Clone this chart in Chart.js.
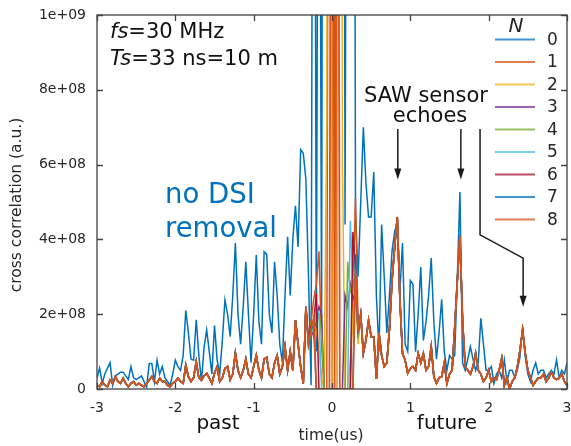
<!DOCTYPE html>
<html>
<head>
<meta charset="utf-8">
<script src="https://cdn.jsdelivr.net/npm/chart.js@4.4.0/dist/chart.umd.min.js"></script>
<style>
  html, body { margin: 0; padding: 0; background: #fff; }
</style>
</head>
<body>
<canvas id="myChart" width="571" height="446"></canvas>
<script>
// values are in units of 1e8 (a.u.), one sample every 1/30 us (fs = 30 MHz)
const seriesN = [0, 1, 2, 3, 4, 5, 6, 7, 8];
const seriesColors = ['#0072BD', '#D95319', '#EDB120', '#7E2F8E', '#77AC30', '#4DBEEE', '#A2142F', '#0072BD', '#D95319'];
const xTickLabels = ['-3', '-2', '-1', '0', '1', '2', '3'];
const yTickLabels = ['0', '2e+08', '4e+08', '6e+08', '8e+08', '1e+09'];

const timeUs = Array.from({ length: 181 }, (_, i) => -3 + i / 30);

// N = 0 : no DSI removal
const noRemoval = [
  0.3, 0.56, 0.15, 0.4, 0.55, 0.7, 0.1, 0.35, 0.4, 0.45,
  0.45, 0.35, 0.25, 0.6, 0.3, 0.25, 0.3, 0.35, 0.2, 0.05,
  0.68, 0.68, 0.2, 0.77, 0.4, 0.6, 0.3, 0.2, 0.1, 0.4,
  0.77, 0.6, 0.5, 0.9, 2.1, 1.5, 0.8, 0.77, 1.85, 0.9,
  0.2, 1.1, 1.58, 1.0, 0.4, 1.7, 0.78, 0.4, 1.3, 2.38,
  2.0, 1.4, 2.5, 3.9, 2.0, 1.2, 2.2, 3.4, 2.0, 0.7,
  2.0, 3.58, 1.8, 1.2, 3.67, 3.6, 2.0, 1.5, 3.4, 2.5,
  1.2, 0.7, 2.5, 4.07, 2.5, 4.0, 4.9, 3.8, 6.4, 6.3,
  5.6, 3.0, 0.1, 30, 1.0, 25, 1.5, 40, 70, 90,
  100, 90, 70, 50, 40, 4.4, 30, 50, 40, 4.7,
  3.0, 5.0, 7.0, 5.5, 4.6, 4.6, 5.8, 2.5, 1.0, 4.4,
  3.0, 1.5, 2.5, 3.7, 4.2, 4.5, 2.6, 3.9, 1.2, 1.0,
  2.9, 2.8, 1.0, 2.0, 3.26, 1.3, 1.8, 2.5, 3.5, 1.8,
  0.8, 1.5, 2.4, 1.0, 0.5, 0.9, 0.8, 0.9, 3.0, 5.27,
  0.7, 0.5, 0.8, 1.13, 0.8, 0.5, 0.7, 1.89, 1.2, 0.5,
  0.5, 0.6, 0.15, 0.4, 0.5, 0.3, 0.78, 0.2, 0.5, 0.5,
  0.3, 0.5, 0.86, 1.67, 0.86, 0.4, 0.2, 0.5, 0.7, 0.4,
  0.5, 0.5, 0.3, 0.4, 0.5, 0.4, 0.78, 0.3, 0.5, 0.4, 0.7
];

// N = 8, also the common part of N = 1..7 away from the centre
const residual = [
  0.1, 0.06, 0.2, 0.1, 0.06, 0.24, 0.15, 0.33, 0.2, 0.15,
  0.29, 0.15, 0.06, 0.15, 0.2, 0.1, 0.15, 0.1, 0.06, 0.15,
  0.24, 0.33, 0.2, 0.15, 0.29, 0.2, 0.2, 0.1, 0.06, 0.15,
  0.2, 0.29, 0.2, 0.15, 0.64, 0.33, 0.2, 0.3, 0.73, 0.3,
  0.24, 0.35, 0.42, 0.29, 0.15, 0.42, 0.6, 0.2, 0.3, 0.55,
  0.6, 0.25, 0.4, 0.96, 0.5, 0.3, 0.5, 0.8, 0.4, 0.3,
  0.6, 0.9, 0.5, 0.3, 0.8, 0.85, 0.4, 0.3, 0.7, 0.9,
  0.4, 0.6, 1.13, 0.5, 1.0, 0.5, 1.84, 1.2, 0.6, 0.15,
  2.2, 1.2, 1.6, 1.9, 0, 0, 0, 0, 0, 0,
  30, 0, 30, 0, 0, 0, 0, 0, 0, 3.2,
  1.58, 2.0, 0.96, 1.3, 1.84, 1.4, 1.4, 0.27, 1.5, 0.9,
  0.6, 0.7, 1.6, 2.9, 3.8, 4.6, 2.4, 0.95, 0.77, 0.42,
  0.55, 0.6, 0.5, 0.95, 0.7, 0.95, 0.5, 0.6, 1.13, 0.33,
  0.15, 0.3, 0.33, 0.7, 0.15, 0.4, 0.5, 1.65, 2.9, 4.1,
  1.84, 0.6, 0.5, 0.4, 0.6, 0.96, 0.5, 0.4, 0.2, 0.3,
  0.5, 0.2, 0.3, 0.25, 0.5, 0.82, 0.1, 0.3, 0.0, 0.2,
  0.3, 0.6, 1.04, 1.58, 0.96, 0.5, 0.3, 0.1, 0.2, 0.3,
  0.3, 0.4, 0.2, 0.3, 0.45, 0.3, 0.25, 0.3, 0.4, 0.2, 0.1
];

// centre samples (index 81..100) that differ for N = 1..7
const centerStart = 81;
const centerN1 = [1.3, 1.8, 2.4, 2.8, 3.68, 1.2, 0, 0, 30, 0, 30, 0, 0, 0, 0, 0, 0, 2.6, 5.1, 1.7];
const centerN2 = [1.2, 1.7, 1.5, 1.6, 1.0, 0.3, 0, 7.3, 60, 0, 0, 0, 60, 6.0, 0, 0, 0.8, 2.0, 3.0, 1.2];
const centerN3 = [1.2, 1.6, 1.4, 1.8, 2.2, 2.0, 0, 0, 0, 0, 0, 0, 0, 0, 2.5, 2.2, 2.8, 2.4, 2.6, 1.5];
const centerN4 = [1.1, 1.7, 1.5, 1.7, 2.0, 1.5, 0, 0, 0, 0, 0, 0, 0, 0, 0, 3.4, 2.6, 2.8, 2.7, 1.4];
const centerN5 = [1.2, 1.5, 1.6, 2.2, 2.0, 0, 0, 0, 0, 0, 0, 0, 0, 0, 0, 0, 4.5, 3.0, 2.9, 1.6];
const centerN6 = [1.3, 1.7, 1.8, 2.56, 0, 0, 0, 0, 0, 0, 0, 0, 0, 0, 0, 0, 0, 4.2, 3.2, 1.5];
const centerN7 = [1.2, 1.6, 1.7, 0, 0, 0, 0, 0, 0, 0, 0, 0, 0, 0, 0, 0, 0, 0, 3.6, 1.6];

const centers = [null, centerN1, centerN2, centerN3, centerN4, centerN5, centerN6, centerN7, null];

function seriesFor(n) {
  if (n === 0) return noRemoval;
  const s = residual.slice();
  if (centers[n]) s.splice(centerStart, centers[n].length, ...centers[n]);
  return s;
}

const FONT = "'DejaVu Sans', sans-serif";
const INK = '#262626';

const datasets = seriesN.map(n => ({
  label: String(n),
  data: seriesFor(n).map((v, i) => ({ x: timeUs[i], y: v })),
  borderColor: seriesColors[n],
  backgroundColor: seriesColors[n],
  borderWidth: n === 8 ? 1.8 : 1.5,
  pointRadius: 0,
  tension: 0,
  fill: false,
  order: 8 - n
}));

const decorations = {
  id: 'decorations',
  afterDraw(chart) {
    const { ctx, chartArea: a, scales: { x, y } } = chart;
    ctx.save();

    // legend
    ctx.fillStyle = '#fff';
    ctx.fillRect(489, 18, 74, 210);
    ctx.font = 'italic 20px ' + FONT;
    ctx.fillStyle = INK;
    ctx.textAlign = 'center';
    ctx.textBaseline = 'middle';
    ctx.fillText('N', 516, 27);
    ctx.font = '17px ' + FONT;
    ctx.textAlign = 'left';
    seriesN.forEach((n, k) => {
      const yy = 39.5 + k * 22.5;
      ctx.strokeStyle = seriesColors[n];
      ctx.globalAlpha = 0.75;
      ctx.lineWidth = 2;
      ctx.beginPath();
      ctx.moveTo(495, yy);
      ctx.lineTo(535, yy);
      ctx.stroke();
      ctx.globalAlpha = 1;
      ctx.fillStyle = INK;
      ctx.fillText(String(n), 547, yy + 1);
    });

    // frame and inward ticks
    ctx.strokeStyle = '#404040';
    ctx.lineWidth = 1.3;
    ctx.strokeRect(a.left, a.top, a.right - a.left, a.bottom - a.top);
    const len = 6;
    ctx.beginPath();
    x.ticks.forEach(t => {
      const px = Math.round(x.getPixelForValue(t.value)) + 0.5;
      ctx.moveTo(px, a.bottom); ctx.lineTo(px, a.bottom - len);
      ctx.moveTo(px, a.top); ctx.lineTo(px, a.top + len);
    });
    y.ticks.forEach(t => {
      const py = Math.round(y.getPixelForValue(t.value)) + 0.5;
      ctx.moveTo(a.left, py); ctx.lineTo(a.left + len, py);
      ctx.moveTo(a.right, py); ctx.lineTo(a.right - len, py);
    });
    ctx.stroke();

    // annotations
    ctx.fillStyle = '#111';
    ctx.textAlign = 'left';
    ctx.textBaseline = 'alphabetic';
    const mixed = (parts, x0, y0) => {
      let cx = x0;
      parts.forEach(([txt, it]) => {
        ctx.font = (it ? 'italic ' : '') + '21px ' + FONT;
        ctx.fillText(txt, cx, y0);
        cx += ctx.measureText(txt).width;
      });
    };
    mixed([['fs', true], ['=30 MHz', false]], 110, 38);
    mixed([['Ts', true], ['=33 ns=10 m', false]], 110, 65);

    ctx.font = '21px ' + FONT;
    ctx.textAlign = 'center';
    ctx.fillText('SAW sensor', 426, 102);
    ctx.fillText('echoes', 430, 122);

    ctx.fillStyle = '#0072BD';
    ctx.font = '27.5px ' + FONT;
    ctx.textAlign = 'left';
    ctx.fillText('no DSI', 165, 203);
    ctx.fillText('removal', 165, 237);

    // arrows
    ctx.strokeStyle = '#1a1a1a';
    ctx.fillStyle = '#1a1a1a';
    ctx.lineWidth = 1.5;
    const head = (hx, hy) => {
      ctx.beginPath();
      ctx.moveTo(hx, hy);
      ctx.lineTo(hx - 3.5, hy - 11);
      ctx.lineTo(hx + 3.5, hy - 11);
      ctx.closePath();
      ctx.fill();
    };
    const ax1 = x.getPixelForValue(0.84), ax2 = x.getPixelForValue(1.645);
    const yTop = y.getPixelForValue(6.95), yTip = y.getPixelForValue(5.6);
    [ax1, ax2].forEach(px => {
      ctx.beginPath();
      ctx.moveTo(px, yTop); ctx.lineTo(px, yTip - 8); ctx.stroke();
      head(px, yTip);
    });
    const bx1 = x.getPixelForValue(1.89), bx2 = x.getPixelForValue(2.44);
    ctx.beginPath();
    ctx.moveTo(bx1, yTop);
    ctx.lineTo(bx1, y.getPixelForValue(4.12));
    ctx.lineTo(bx2, y.getPixelForValue(3.5));
    ctx.lineTo(bx2, y.getPixelForValue(2.3));
    ctx.stroke();
    head(bx2, y.getPixelForValue(2.2));

    // axis texts
    ctx.fillStyle = '#111';
    ctx.textAlign = 'center';
    ctx.textBaseline = 'middle';
    ctx.font = '20px ' + FONT;
    ctx.fillText('past', 218, 424);
    ctx.fillText('future', 447, 424);
    ctx.font = '15.5px ' + FONT;
    ctx.fillStyle = INK;
    ctx.fillText('time(us)', 331, 436);
    ctx.save();
    ctx.translate(17, 205);
    ctx.rotate(-Math.PI / 2);
    ctx.fillText('cross correlation (a.u.)', 0, 0);
    ctx.restore();

    ctx.restore();
  }
};

const ctx = document.getElementById('myChart').getContext('2d');

const myChart = new Chart(ctx, {
  type: 'line',
  data: { datasets },
  options: {
    responsive: false,
    animation: false,
    devicePixelRatio: 1,
    layout: { padding: { left: 0, right: 4, top: 15, bottom: 0 } },
    plugins: { legend: { display: false }, tooltip: { enabled: false } },
    scales: {
      x: {
        type: 'linear',
        min: -3,
        max: 3,
        grid: { display: false, drawTicks: false },
        border: { display: false },
        ticks: {
          stepSize: 1,
          padding: 11,
          color: INK,
          font: { family: FONT, size: 14 },
          maxRotation: 0,
          callback: (v, i) => xTickLabels[i]
        },
        afterFit(scale) {
          scale.height = 57;
          scale.paddingLeft = 0;
          scale.paddingRight = 0;
        }
      },
      y: {
        min: 0,
        max: 10,
        grid: { display: false, drawTicks: false },
        border: { display: false },
        ticks: {
          stepSize: 2,
          padding: 11,
          color: INK,
          font: { family: FONT, size: 14 },
          callback: (v, i) => yTickLabels[i]
        },
        afterFit(scale) {
          scale.width = 97;
          scale.paddingTop = 0;
          scale.paddingBottom = 0;
        }
      }
    }
  },
  plugins: [decorations]
});
</script>
</body>
</html>
